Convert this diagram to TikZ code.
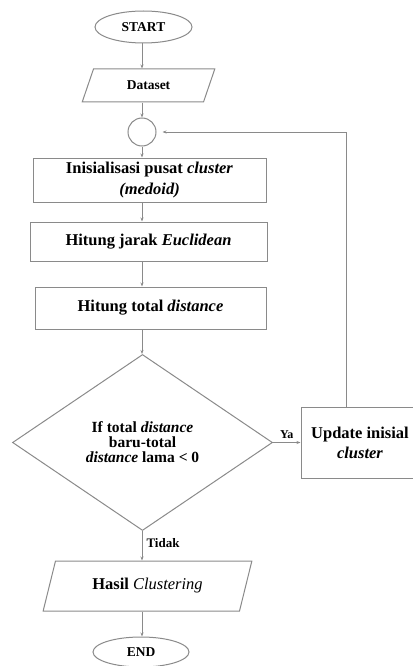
\documentclass[tikz,border=0pt]{standalone}
\usepackage{fontspec}
\setmainfont{Liberation Serif}
\usetikzlibrary{shapes.geometric,arrows.meta}
\definecolor{ln}{HTML}{8A8A8A}
\tikzset{
  base/.style={draw=ln, line width=1pt, font=\bfseries, text=black, inner sep=1pt, align=center},
  term/.style={base, ellipse, minimum width=97pt, minimum height=32pt, font=\fontsize{13.5}{15}\bfseries},
  io/.style={base, trapezium, trapezium stretches=true, trapezium left angle=67, trapezium right angle=113},
  proc/.style={base, rectangle, font=\fontsize{16.5}{21}\bfseries},
  dec/.style={base, diamond, minimum width=260pt, minimum height=176pt, font=\fontsize{15.5}{15}\bfseries},
  conn/.style={base, circle, minimum size=28pt},
  arr/.style={draw=ln, line width=1pt, -{Stealth[length=4pt,width=3pt]}},
  lbl/.style={font=\bfseries, text=black, inner sep=0pt}
}
\begin{document}
\begin{tikzpicture}[x=1pt,y=-1pt]
\useasboundingbox (0,0) rectangle (412,666);
\node[term] (start) at (143.5,27) {START};
\node[io, minimum width=133pt, minimum height=33pt, font=\fontsize{13.5}{15}\bfseries] (data) at (148.5,85.5) {Dataset};
\node[conn] (c) at (142,132) {};
\node[proc, minimum width=233pt, minimum height=44pt] (b1) at (149.5,180) {Inisialisasi pusat \textit{cluster}\\\textit{(medoid)}};
\node[proc, minimum width=237pt, minimum height=39pt] (b2) at (148.5,241.5) {Hitung jarak \textit{Euclidean}};
\node[proc, minimum width=231pt, minimum height=42pt] (b3) at (150.5,308) {Hitung total \textit{distance}};
\node[dec] (d) at (142.5,442.5) {If total \textit{distance}\\baru-total\\\textit{distance} lama < 0};
\node[proc, minimum width=118pt, minimum height=71pt, font=\fontsize{16.5}{20}\bfseries] (up) at (360,442.5) {Update inisial\\\textit{cluster}};
\node[io, minimum width=209pt, minimum height=50pt, trapezium left angle=66, trapezium right angle=114, font=\fontsize{16.5}{20}\bfseries] (res) at (147.5,586) {Hasil \textit{\mdseries Clustering}};
\node[term, minimum width=96pt, minimum height=30pt] (end) at (141,652) {END};

\draw[arr] (start.south -| c) -- (data.north -| c);
\draw[arr] (data.south -| c) -- (c.north);
\draw[arr] (c.south) -- (b1.north -| c);
\draw[arr] (b1.south -| c) -- (b2.north -| c);
\draw[arr] (b2.south -| c) -- (b3.north -| c);
\draw[arr] (b3.south -| c) -- (d.north -| c);
\draw[arr] (d.south -| c) -- node[lbl, right, pos=0.4, xshift=4pt, font=\fontsize{13}{15}\bfseries] (tidak) {Tidak} (res.north -| c);
\draw[arr] (res.south -| c) -- (end.north -| c);
\draw[arr] (d.east) -- node[lbl, above, yshift=3pt, font=\fontsize{12}{13}\bfseries] (ya) {Ya} (up.west);
\coordinate (fb) at ([xshift=-14pt]up.north);
\draw[arr, shorten >=6pt] (fb) |- (c.east);
\end{tikzpicture}
\end{document}
